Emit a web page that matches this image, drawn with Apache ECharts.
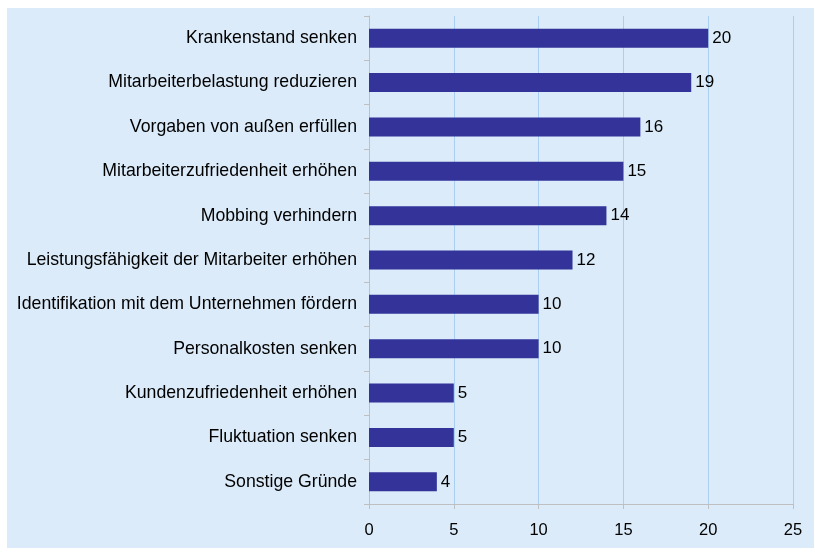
<!DOCTYPE html>
<html>
<head>
<meta charset="utf-8">
<script src="https://cdn.jsdelivr.net/npm/echarts@6/dist/echarts.min.js"></script>
<style>
html,body{margin:0;padding:0;background:#ffffff;}
#chart{width:815px;height:552px;}
</style>
</head>
<body>
<div id="chart"></div>
<script>
const categories = [
  "Krankenstand senken",
  "Mitarbeiterbelastung reduzieren",
  "Vorgaben von außen erfüllen",
  "Mitarbeiterzufriedenheit erhöhen",
  "Mobbing verhindern",
  "Leistungsfähigkeit der Mitarbeiter erhöhen",
  "Identifikation mit dem Unternehmen fördern",
  "Personalkosten senken",
  "Kundenzufriedenheit erhöhen",
  "Fluktuation senken",
  "Sonstige Gründe"
];
const values = [20, 19, 16, 15, 14, 12, 10, 10, 5, 5, 4];
const xTicks = [0, 5, 10, 15, 20, 25];

const FONT = 'Liberation Sans, Arial';
const chart = echarts.init(document.getElementById('chart'), null, {renderer: 'canvas'});
chart.setOption({
  animation: false,
  backgroundColor: '#ffffff',
  graphic: [{
    type: 'rect', z: -10, silent: true,
    shape: {x: 7, y: 8, width: 807, height: 540},
    style: {fill: '#DBEBF9'}
  }],
  grid: {left: 369, right: 22, top: 16, bottom: 48, containLabel: false},
  xAxis: {
    type: 'value',
    min: xTicks[0], max: xTicks[xTicks.length - 1], interval: 5,
    axisLine: {show: true, lineStyle: {color: '#BFBFBF', width: 1}},
    axisTick: {show: true, length: 5, lineStyle: {color: '#BFBFBF'}},
    splitLine: {show: true, lineStyle: {color: '#A9CFF3', width: 1}},
    axisLabel: {color: '#000', fontSize: 16.5, fontFamily: FONT, margin: 18}
  },
  yAxis: {
    type: 'category',
    inverse: true,
    data: categories,
    axisLine: {show: true, lineStyle: {color: '#BFBFBF', width: 1}},
    axisTick: {show: true, length: 5, lineStyle: {color: '#BFBFBF'}},
    axisLabel: {color: '#000', fontSize: 17.7, fontFamily: FONT, margin: 12}
  },
  series: [{
    type: 'bar',
    data: values,
    barWidth: 19,
    itemStyle: {color: '#333399'},
    label: {show: true, position: 'right', distance: 4, color: '#000', fontSize: 17, fontFamily: FONT}
  }]
});
</script>
</body>
</html>
